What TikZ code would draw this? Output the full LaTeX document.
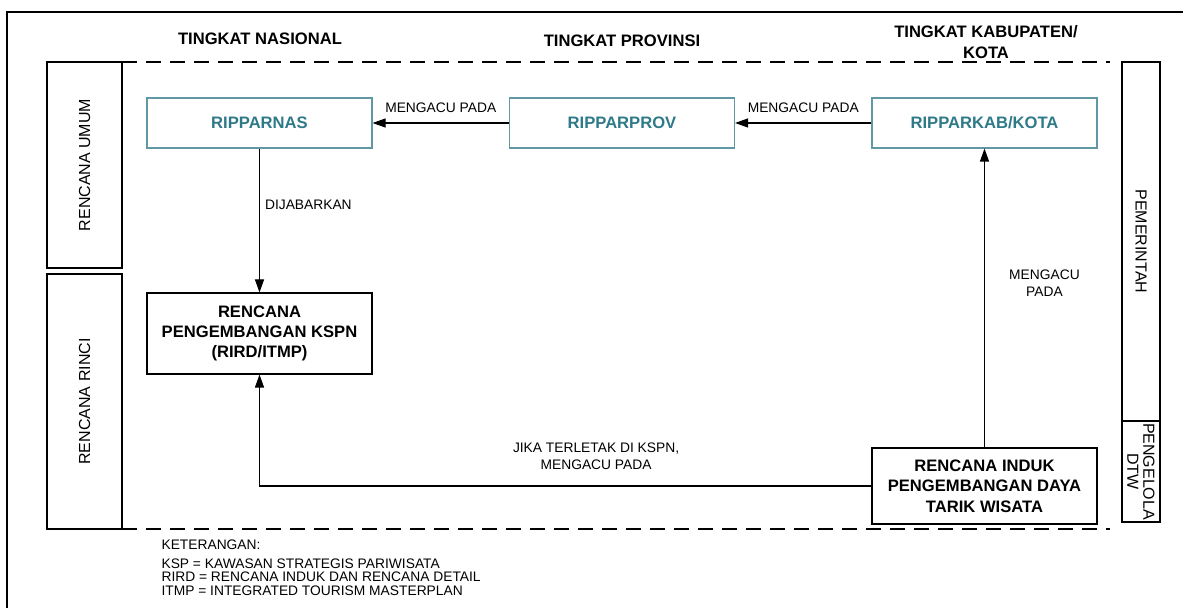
\documentclass[tikz,border=0pt]{standalone}
\usepackage{fontspec}
\setmainfont{Liberation Sans}
\usetikzlibrary{arrows.meta}

\definecolor{tealtext}{RGB}{46,122,136}
\definecolor{tealline}{RGB}{96,152,166}

\begin{document}
\begin{tikzpicture}[x=0.5pt,y=-0.5pt,
    line width=0.55pt,
    every node/.style={inner sep=0pt,align=center},
    head/.style={font=\fontsize{8.3}{10.2}\selectfont\bfseries},
    planbox/.style={draw=tealline,minimum width=112.5pt,minimum height=25pt,
      text=tealtext,font=\fontsize{8.3}{10.2}\selectfont\bfseries},
    docbox/.style={draw,minimum width=112.5pt,font=\fontsize{8.3}{10.2}\selectfont\bfseries},
    sidebox/.style={draw,font=\fontsize{8}{8}\selectfont},
    lbl/.style={font=\fontsize{6.9}{8.5}\selectfont},
    arr/.style={-{Triangle[length=6.5pt,width=4.5pt]}},
    band/.style={dash pattern=on 7.5pt off 4.5pt}]
   \useasboundingbox (0,0) rectangle (1183,608);
   % page frame
   \draw (7,608) -- (7,12) -- (1183,12);
   % levels
   \path (260,39) node[head] (nas) {TINGKAT NASIONAL};
   \path (622,41) node[head] (prov) {TINGKAT PROVINSI};
   \path (986,42) node[head] (kab) {TINGKAT KABUPATEN/\\KOTA};
   \draw[band] (122,62) -- (1110,62);
   \draw[band] (122,529) -- (1110,529);
   % side columns
   \path (84.5,165) node[sidebox,rotate=90,minimum width=103pt,minimum height=37.5pt] (umum) {RENCANA UMUM};
   \path (84.5,401.5) node[sidebox,rotate=90,minimum width=127.5pt,minimum height=37.5pt] (rinci) {RENCANA RINCI};
   \path (1141,241.5) node[sidebox,rotate=-90,minimum width=179.5pt,minimum height=19pt] (pem) {PEMERINTAH};
   \path (1141,471.5) node[sidebox,rotate=-90,minimum width=50.5pt,minimum height=19pt] (dtw) {PENGELOLA\\DTW};
   % plans
   \path (259.5,123) node[planbox] (ripnas) {RIPPARNAS};
   \path (622,123) node[planbox] (ripprov) {RIPPARPROV};
   \path (984.5,123) node[planbox] (ripkab) {RIPPARKAB/KOTA};
   \path (259.5,333.5) node[docbox,minimum height=40.5pt] (kspn) {RENCANA\\PENGEMBANGAN KSPN\\(RIRD/ITMP)};
   \path (984.5,486) node[docbox,minimum height=38pt] (induk) {RENCANA INDUK\\PENGEMBANGAN DAYA\\TARIK WISATA};
   % connectors
   \draw[arr] (ripprov) -- node[lbl,above=5pt] {MENGACU PADA} (ripnas);
   \draw[arr] (ripkab) -- node[lbl,above=5pt] {MENGACU PADA} (ripprov);
   \draw[arr] (ripnas) -- node[lbl,right=2.5pt,pos=0.39] {DIJABARKAN} (kspn);
   \draw[arr] (induk.north) -- node[lbl,pos=0.55,xshift=30pt] {MENGACU\\PADA} (ripkab.south);
   \draw[arr] (induk.west) -- node[lbl,above=8pt,pos=0.45] {JIKA TERLETAK DI KSPN,\\MENGACU PADA} (kspn.south |- induk.west) -- (kspn.south);
   % legend
   \path (161,545) node[lbl,anchor=west] (ket) {KETERANGAN:};
   \path (161,577) node[anchor=west,align=left,font=\fontsize{6.9}{6.75}\selectfont] (legend)
     {KSP = KAWASAN STRATEGIS PARIWISATA\\RIRD = RENCANA INDUK DAN RENCANA DETAIL\\ITMP = INTEGRATED TOURISM MASTERPLAN};
\end{tikzpicture}
\end{document}
